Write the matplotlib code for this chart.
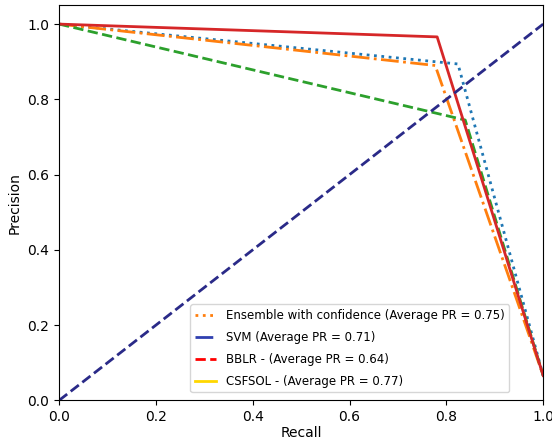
import numpy as np
import matplotlib.pyplot as plt
from matplotlib.lines import Line2D

# Precision-recall points
recall_ens = [0.0, 0.824, 1.0]
prec_ens = [1.0, 0.894, 0.066]

recall_svm = [0.0, 0.777, 1.0]
prec_svm = [1.0, 0.890, 0.066]

recall_bblr = [0.0, 0.839, 1.0]
prec_bblr = [1.0, 0.745, 0.066]

recall_csf = [0.0, 0.781, 1.0]
prec_csf = [1.0, 0.966, 0.066]

chance = [0.0, 1.0]

labels = ['Ensemble with confidence (Average PR = 0.75)',
          'SVM (Average PR = 0.71)',
          'BBLR - (Average PR = 0.64)',
          'CSFSOL - (Average PR = 0.77)']

fig = plt.figure(figsize=(5.52, 4.4), dpi=100)
ax = fig.add_axes([0.107, 0.09, 0.877, 0.898])

ax.plot(recall_ens, prec_ens, linestyle=':', color='tab:blue', lw=2)
ax.plot(recall_svm, prec_svm, linestyle='-.', color='tab:orange', lw=2)
ax.plot(recall_bblr, prec_bblr, linestyle='--', color='tab:green', lw=2)
ax.plot(recall_csf, prec_csf, linestyle='-', color='tab:red', lw=2)
ax.plot(chance, chance, linestyle='--', color='#2a2a88', lw=2)

handles = [Line2D([], [], linestyle=':', color='tab:orange', lw=2),
           Line2D([], [], linestyle='-.', color='#3040b0', lw=2),
           Line2D([], [], linestyle='--', color='red', lw=2),
           Line2D([], [], linestyle='-', color='gold', lw=2)]
ax.legend(handles, labels, loc='lower right', bbox_to_anchor=(0.93, 0.02),
          borderaxespad=0, fontsize=8.5, labelspacing=0.75, handlelength=1.8)

ax.set_xlim(0, 1)
ax.set_ylim(0, 1.05)
ax.set_xlabel('Recall', labelpad=1)
ax.set_ylabel('Precision')

fig.savefig('out.png', dpi=100)
